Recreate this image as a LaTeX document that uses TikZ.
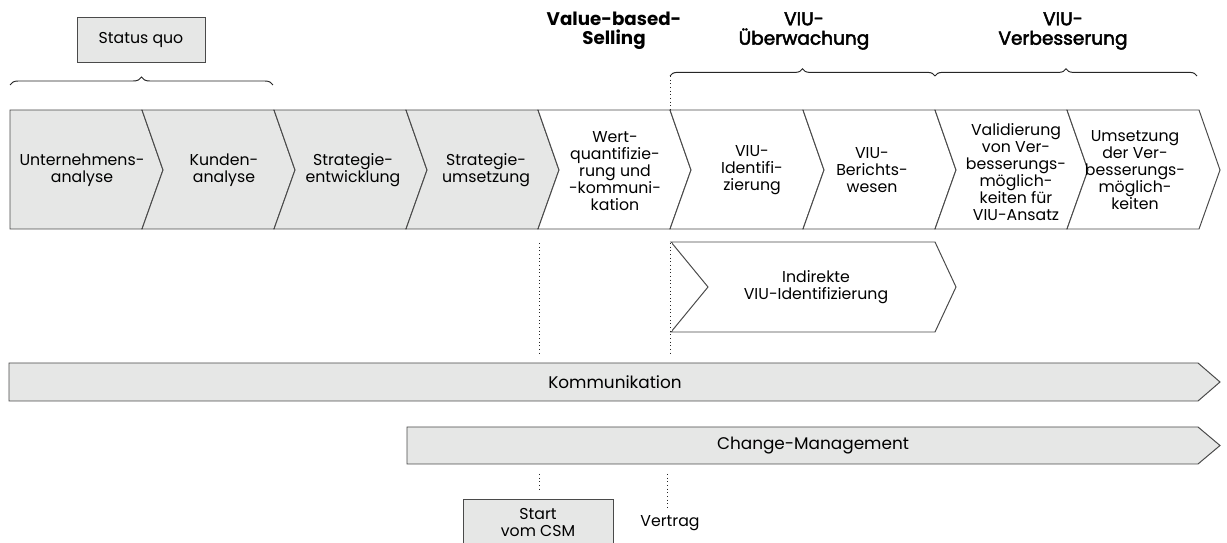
\documentclass[tikz,border=0pt]{standalone}
\usepackage{fontspec}
\setmainfont{Poppins}
\newfontfamily\mittel[FakeBold=2.6]{Poppins}
\usepackage{tikz}
\usetikzlibrary{decorations.pathreplacing,positioning}
\definecolor{hellgrau}{HTML}{E6E7E6}
\definecolor{rahmen}{HTML}{4A4A4A}

\begin{document}
\begin{tikzpicture}[x=0.25mm, y=-0.25mm]
	\tikzstyle{every node} = [align=center, inner sep=0pt, font=\fontsize{11.2}{12.1}\selectfont]
	\tikzstyle{feld} = [draw=rahmen, line width=0.7pt, fill=hellgrau, line join=miter]
	\tikzstyle{weiss} = [draw=rahmen, line width=0.7pt, fill=white, line join=miter]
	\tikzstyle{klammer} = [draw=black!85, line width=0.7pt, decorate, decoration={brace, amplitude=2mm}]
	\tikzstyle{punkte} = [draw=black!85, line width=0.6pt, dotted]
	\tikzstyle{titel} = [font=\fontsize{13}{13.8}\selectfont\bfseries]
	\tikzstyle{titelm} = [font=\fontsize{13.2}{13.8}\selectfont\mittel]
	\tikzstyle{band} = [font=\fontsize{12}{13}\selectfont]
\useasboundingbox (0,0) rectangle (1227,543);
% Ueberschriften
\node[draw=rahmen, line width=0.7pt, fill=hellgrau, minimum width=32mm, minimum height=11.25mm] (sq) at (141,39.5) {Status quo};
\node[titel] (vbs) at (614,31) {Value-based-\\Selling};
\node[titelm] (vue) at (804,31) {VIU-\\Überwachung};
\node[titelm] (vve) at (1063,31) {VIU-\\Verbesserung};
	\path[klammer] (10,85) -- (273,85);
	\path[klammer, decoration={brace, amplitude=1.8mm}] (670,76) -- (935,76);
	\path[klammer, decoration={brace, amplitude=1.8mm}] (935,76) -- (1197,76);
% Prozesskette
	\path[feld] (10,110) -- (142,110) -- (163,170) -- (142,229) -- (10,229) -- cycle;
	\path[feld] (142,110) -- (274,110) -- (295,170) -- (274,229) -- (142,229) -- (163,170) -- cycle;
	\path[feld] (274,110) -- (406,110) -- (427,170) -- (406,229) -- (274,229) -- (295,170) -- cycle;
	\path[feld] (406,110) -- (538,110) -- (559,170) -- (538,229) -- (406,229) -- (427,170) -- cycle;
	\path[weiss] (538,110) -- (670,110) -- (691,170) -- (670,229) -- (538,229) -- (559,170) -- cycle;
	\path[weiss] (670,110) -- (803,110) -- (824,170) -- (803,229) -- (670,229) -- (691,170) -- cycle;
	\path[weiss] (803,110) -- (935,110) -- (956,170) -- (935,229) -- (803,229) -- (824,170) -- cycle;
	\path[weiss] (935,110) -- (1067,110) -- (1088,170) -- (1067,229) -- (935,229) -- (956,170) -- cycle;
	\path[weiss] (1067,110) -- (1199,110) -- (1220,170) -- (1199,229) -- (1067,229) -- (1088,170) -- cycle;
\node (c1) at (82,170) {Unternehmens-\\analyse};
\node (c2) at (224,170) {Kunden-\\analyse};
\node (c3) at (353,170) {Strategie-\\entwicklung};
\node (c4) at (486,170) {Strategie-\\umsetzung};
\node (c5) at (615,171) {Wert-\\quantifizie-\\rung und\\-kommuni-\\kation};
\node (c6) at (752,170) {VIU-\\Identifi-\\zierung};
\node (c7) at (872,170) {VIU-\\Berichts-\\wesen};
\node (c8) at (1016,172) {Validierung\\von Ver-\\besserungs-\\möglich-\\keiten für\\VIU-Ansatz};
\node (c9) at (1135,170) {Umsetzung\\der Ver-\\besserungs-\\möglich-\\keiten};
% Indirekte Identifizierung
	\path[weiss] (671,242) -- (935,242) -- (956,287) -- (935,332) -- (671,332) -- (708,287) -- cycle;
	\path[draw=white, line width=1pt] (671,243) -- (671,331);
\node (ind) at (816,287) {Indirekte\\VIU-Identifizierung};
% Querschnitt
	\path[feld] (9,363) -- (1198,363) -- (1220,382) -- (1198,401) -- (9,401) -- cycle;
\node[band] (kom) at (615,382) {Kommunikation};
	\path[feld] (407,427) -- (1198,427) -- (1220,445.5) -- (1198,464) -- (407,464) -- cycle;
\node[band] (chm) at (813,445.5) {Change-Management};
% Meilensteine
	\path[feld] (463,499) rectangle (613,550);
\node (st) at (538,523) {Start\\vom CSM};
\node (vt) at (670,523) {Vertrag};
\coordinate (o1) at (670,76);
\coordinate (o2) at (670,110);
\coordinate (m1) at (539,243);
\coordinate (m2) at (539,354);
\coordinate (m3) at (670,243);
\coordinate (m4) at (670,354);
\coordinate (u1) at (539,474);
\coordinate (u2) at (539,489);
\coordinate (u3) at (667,474);
\coordinate (u4) at (667,510);
	\path[punkte] (o1) -- (o2);
	\path[punkte] (m1) -- (m2);
	\path[punkte] (m3) -- (m4);
	\path[punkte] (u1) -- (u2);
	\path[punkte] (u3) -- (u4);
\end{tikzpicture}
\end{document}
